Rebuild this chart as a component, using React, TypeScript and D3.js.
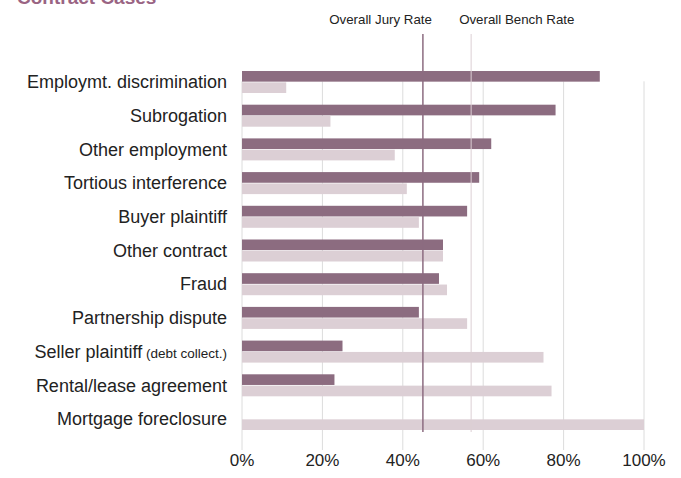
import React, { useRef, useEffect } from "react";
import * as d3 from "d3";

// case types, top to bottom
const categories = [
  "Employmt. discrimination",
  "Subrogation",
  "Other employment",
  "Tortious interference",
  "Buyer plaintiff",
  "Other contract",
  "Fraud",
  "Partnership dispute",
  "Seller plaintiff",
  "Rental/lease agreement",
  "Mortgage foreclosure",
];
// small suffix after a label
const labelNotes = ["", "", "", "", "", "", "", "", "(debt collect.)", "", ""];

// plaintiff win rate, %
const juryRates = [89, 78, 62, 59, 56, 50, 49, 44, 25, 23, 0];
const benchRates = [11, 22, 38, 41, 44, 50, 51, 56, 75, 77, 100];

const overallJury = 45;
const overallBench = 57;

const xTicks = [0, 20, 40, 60, 80, 100];

const W = 681;
const H = 478;
const DARK = "#8c6c80";
const LIGHT = "#dccfd5";
const FONT = "'Liberation Sans', Arial, Helvetica, sans-serif";

const App = () => {
  const svgRef = useRef<SVGSVGElement>(null);

  useEffect(() => {
    const svg = d3.select(svgRef.current);
    svg.selectAll("*").remove();

    const x = d3.scaleLinear().domain([0, 100]).range([242, 644]);

    // rows
    const y = d3
      .scaleBand<string>()
      .domain(categories)
      .range([59.3, 441.7])
      .paddingInner(0.347)
      .paddingOuter(0.347);

    const sub = d3
      .scaleBand<string>()
      .domain(["jury", "bench"])
      .range([0, y.bandwidth()])
      .paddingInner(0.06);

    const gridTop = (y(categories[0]) as number) + (sub("bench") as number) - 1;

    // title (mostly cut off at top, as in the source)
    svg
      .append("text")
      .attr("x", 17)
      .attr("y", 4)
      .attr("font-family", FONT)
      .attr("font-weight", "bold")
      .attr("font-size", 19)
      .attr("fill", "#9a6483")
      .text("Contract Cases");

    // grid
    svg
      .append("g")
      .selectAll("line")
      .data(xTicks)
      .join("line")
      .attr("x1", (d) => x(d))
      .attr("x2", (d) => x(d))
      .attr("y1", gridTop)
      .attr("y2", 450)
      .attr("stroke", "#dcdcdc")
      .attr("stroke-width", 1);

    // tick labels
    svg
      .append("g")
      .selectAll("text")
      .data(xTicks)
      .join("text")
      .attr("x", (d) => x(d))
      .attr("y", 466)
      .attr("text-anchor", "middle")
      .attr("font-family", FONT)
      .attr("font-size", 17)
      .attr("fill", "#222")
      .text((d) => d + "%");

    // bars
    const rows = svg
      .append("g")
      .selectAll("g")
      .data(categories)
      .join("g")
      .attr("transform", (d) => `translate(0,${y(d)})`);

    rows
      .append("rect")
      .attr("x", x(0))
      .attr("y", sub("jury") as number)
      .attr("height", sub.bandwidth())
      .attr("width", (_, i) => x(juryRates[i]) - x(0))
      .attr("fill", DARK);

    rows
      .append("rect")
      .attr("x", x(0))
      .attr("y", sub("bench") as number)
      .attr("height", sub.bandwidth())
      .attr("width", (_, i) => x(benchRates[i]) - x(0))
      .attr("fill", LIGHT);

    // category labels
    const lab = rows
      .append("text")
      .attr("x", 227)
      .attr("y", y.bandwidth() / 2)
      .attr("dy", "0.35em")
      .attr("text-anchor", "end")
      .attr("font-family", FONT)
      .attr("font-size", 18)
      .attr("fill", "#222");
    lab.append("tspan").text((d) => d);
    lab
      .append("tspan")
      .attr("font-size", 13.5)
      .text((_, i) => (labelNotes[i] ? " " + labelNotes[i] : ""));

    // overall rate lines
    svg
      .append("line")
      .attr("x1", x(overallBench))
      .attr("x2", x(overallBench))
      .attr("y1", 34)
      .attr("y2", 432)
      .attr("stroke", LIGHT)
      .attr("stroke-width", 1);
    svg
      .append("line")
      .attr("x1", x(overallJury))
      .attr("x2", x(overallJury))
      .attr("y1", 34)
      .attr("y2", 432)
      .attr("stroke", DARK)
      .attr("stroke-width", 1.5);

    svg
      .append("text")
      .attr("x", x(overallJury) + 9)
      .attr("y", 24)
      .attr("text-anchor", "end")
      .attr("font-family", FONT)
      .attr("font-size", 13.3)
      .attr("fill", "#222")
      .text("Overall Jury Rate");
    svg
      .append("text")
      .attr("x", x(overallBench) - 12)
      .attr("y", 24)
      .attr("text-anchor", "start")
      .attr("font-family", FONT)
      .attr("font-size", 13.3)
      .attr("fill", "#222")
      .text("Overall Bench Rate");
  }, []);

  return (
    <div style={{ position: "absolute", left: 0, top: 0 }}>
      <svg ref={svgRef} width={W} height={H} style={{ display: "block" }} />
    </div>
  );
};

export default App;
